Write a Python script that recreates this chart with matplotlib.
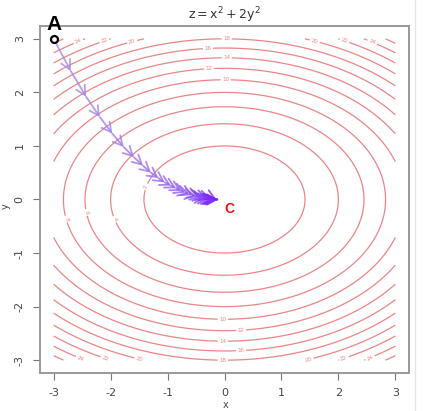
import numpy as np
import matplotlib
matplotlib.use("Agg")
from matplotlib import pyplot as plt
from matplotlib.colors import to_rgb

# contour levels of z = x^2 + 2y^2
levels = [2, 4, 6, 8, 10, 12, 14, 16, 18, 20, 22, 24, 26]

# gradient descent path (A -> C)
path_x = [-3.00, -2.70, -2.43, -2.19, -1.97, -1.77, -1.59, -1.43, -1.29, -1.16,
          -1.05, -0.94, -0.85, -0.76, -0.69, -0.62, -0.56, -0.50, -0.45, -0.41,
          -0.36, -0.33, -0.30, -0.27, -0.24, -0.22, -0.19, -0.17, -0.16, -0.14,
          -0.13, -0.11]
path_y = [3.00, 2.40, 1.92, 1.54, 1.23, 0.98, 0.79, 0.63, 0.50, 0.40,
          0.32, 0.26, 0.21, 0.16, 0.13, 0.11, 0.08, 0.07, 0.05, 0.04,
          0.03, 0.03, 0.02, 0.02, 0.01, 0.01, 0.01, 0.01, 0.01, 0.00,
          0.00, 0.00]

ticks = [-3, -2, -1, 0, 1, 2, 3]

grid = np.linspace(-3, 3, 300)
X, Y = np.meshgrid(grid, grid)
Z = X**2 + 2 * Y**2

fig = plt.figure(figsize=(4.37, 4.11), dpi=100)
ax = fig.add_axes([40/437, 38/411, 369/437, 347/411])

cs = ax.contour(X, Y, Z, levels=levels, colors="#ec8585", linewidths=0.9)
label_pos = [(-2.56, 2.93), (-2.11, 2.96), (-1.62, 2.94), (0.04, 2.98), (-0.29, 2.81),
             (0.04, 2.63), (-0.27, 2.44), (0.02, 2.26), (1.58, 2.94), (2.10, 2.94),
             (2.59, 2.93), (-0.03, -2.23), (0.29, -2.44), (-0.03, -2.64), (0.29, -2.81),
             (-0.03, -3.0), (1.48, -3.0), (2.09, -2.94), (2.54, -2.92), (-2.53, -2.98),
             (-2.09, -2.98), (-1.50, -3.0), (-2.79, -0.37), (-2.42, -0.24), (-1.93, -0.37),
             (-1.36, 0.23)]
ax.clabel(cs, fmt="%d", fontsize=4, inline=True, inline_spacing=2, manual=label_pos)

# path with open chevron heads, getting more vivid toward the end
c0 = np.array(to_rgb("#a48ce6"))
c1 = np.array(to_rgb("#7a22ff"))
n = len(path_x) - 1
for i in range(n):
    t = i / (n - 1)
    col = tuple(c0 * (1 - t) + c1 * t)
    ax.annotate("", xy=(path_x[i+1], path_y[i+1]), xytext=(path_x[i], path_y[i]),
                arrowprops=dict(arrowstyle="->, head_length=0.55, head_width=0.3",
                                color=col, lw=1.3, alpha=0.8,
                                shrinkA=0, shrinkB=0, mutation_scale=12))

ax.plot(path_x[0], path_y[0], "o", ms=5, mfc="white", mec="black", mew=1.6, zorder=5)
ax.text(-3.0, 3.09, "A", fontsize=15, fontweight="bold", color="black",
        ha="center", va="bottom", family="Liberation Sans")
ax.text(0.08, -0.17, "C", fontsize=10, fontweight="bold", color="#ee1111",
        ha="center", va="center", family="Liberation Sans")

ax.set_xlim(-3.24, 3.24)
ax.set_ylim(-3.24, 3.24)
ax.set_xticks(ticks)
ax.set_yticks(ticks)
ax.set_xticklabels([str(t) for t in ticks])
ax.set_yticklabels([str(t) for t in ticks], rotation=90, va="center")
ax.tick_params(length=5, width=0.8, color="#777777", labelsize=8,
               labelcolor="#444444", pad=6)
for s in ax.spines.values():
    s.set_color("#999999")
    s.set_linewidth(1.4)

ax.set_title(r"$\mathregular{z = x^2 + 2y^2}$", fontsize=9, color="#333333", pad=5)
fig.text(6/437, 205/411, "y", rotation=90, fontsize=7, color="#444444",
         ha="center", va="center")
fig.text(226/437, 1/411, "x", fontsize=7, color="#444444", ha="center", va="bottom")

fig.add_artist(plt.Line2D([415/437, 415/437], [0, 1], color="#e6e6e6", lw=1))

fig.savefig("out.png", dpi=100)
